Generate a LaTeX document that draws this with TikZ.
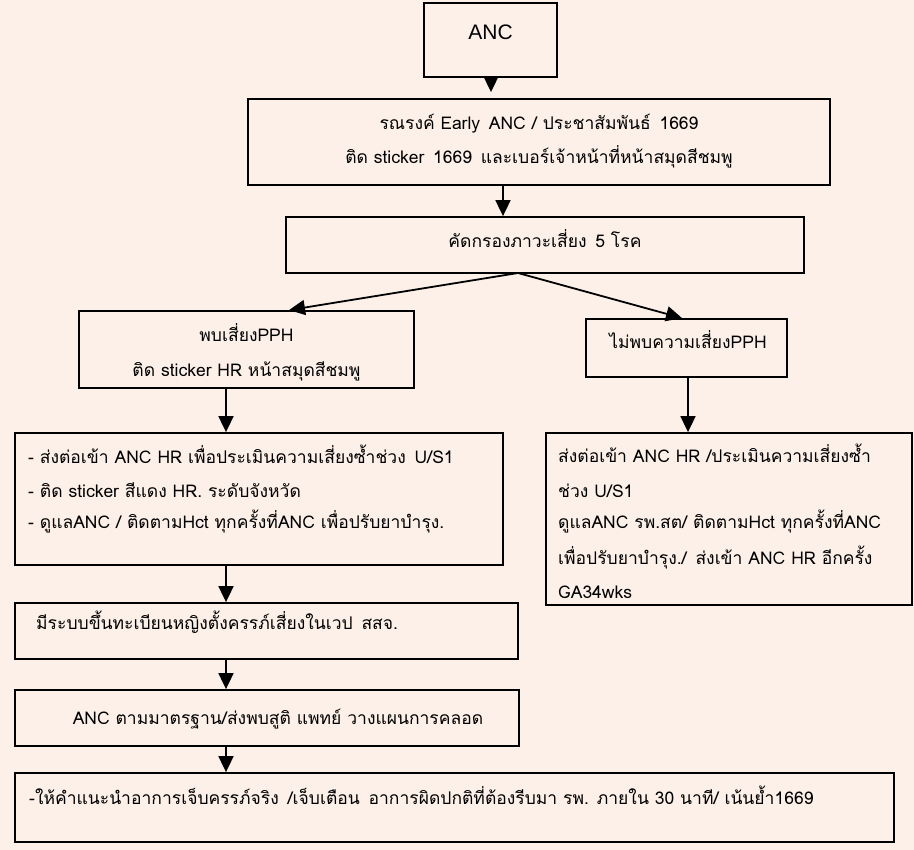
\documentclass[tikz,border=0pt]{standalone}
\usepackage{fontspec}
\setmainfont{Loma}[Script=Thai]
\newfontfamily\ancfont{Liberation Sans}
\usetikzlibrary{arrows.meta}
\definecolor{bgc}{RGB}{252,240,232}
\tikzset{
  box/.style={draw, line width=1.8pt, inner sep=0pt, fill=none},
  arr/.style={line width=1.8pt, -{Triangle[length=16pt,width=15pt]}},
  tl/.style={anchor=base west, inner sep=0pt, font=\fontsize{17.5}{17.5}\selectfont},
  tc/.style={anchor=base, inner sep=0pt, font=\fontsize{17.5}{17.5}\selectfont},
}
\begin{document}
\begin{tikzpicture}[x=1pt,y=-1pt]
\fill[bgc] (0,0) rectangle (914,850);
\useasboundingbox (0,0) rectangle (914,850);
% boxes
\node[box, minimum width=133pt, minimum height=74pt] (b0) at (490.5,40) {};
\node[box, minimum width=582pt, minimum height=86pt] (b2) at (539,142) {};
\node[box, minimum width=518pt, minimum height=56pt] (b3) at (545,245) {};
\node[box, minimum width=335pt, minimum height=77pt] (l1) at (246.5,349.5) {};
\node[box, minimum width=201pt, minimum height=58pt] (r1) at (686.5,348) {};
\node[box, minimum width=488pt, minimum height=132pt] (l2) at (259,499) {};
\node[box, minimum width=366pt, minimum height=172pt] (r2) at (729,519) {};
\node[box, minimum width=503pt, minimum height=56pt] (l3) at (266.5,631) {};
\node[box, minimum width=504pt, minimum height=56pt] (l4) at (267,718) {};
\node[box, minimum width=879pt, minimum height=69pt] (l5) at (454.5,807.5) {};
% texts
\node[anchor=base, inner sep=0pt, font=\ancfont\fontsize{21}{21}\selectfont] (t0) at (490.5,40) {ANC};
\node[tc] (t2a) at (539,130) {รณรงค์ Early\enspace ANC / ประชาสัมพันธ์\enspace 1669};
\node[tc] (t2b) at (539,164) {ติด sticker\enspace 1669\enspace และเบอร์เจ้าหน้าที่หน้าสมุดสีชมพู};
\node[tc] (t3) at (545,248) {คัดกรองภาวะเสี่ยง\enspace 5 โรค};
\node[tc] (tl1a) at (246.5,342) {พบเสี่ยงPPH};
\node[tc] (tl1b) at (246.5,377) {ติด sticker HR หน้าสมุดสีชมพู};
\node[tc] (tr1) at (688,349) {ไม่พบความเสี่ยงPPH};
\node[tl] (tl2a) at (28,464) {- ส่งต่อเข้า ANC HR เพื่อประเมินความเสี่ยงซ้ำช่วง\enspace U/S1};
\node[tl] (tl2b) at (28,498) {- ติด sticker สีแดง HR. ระดับจังหวัด};
\node[tl] (tl2c) at (28,529) {- ดูแลANC / ติดตามHct ทุกครั้งที่ANC เพื่อปรับยาบำรุง.};
\node[tl] (tr2a) at (558,463) {ส่งต่อเข้า ANC HR /ประเมินความเสี่ยงซ้ำ};
\node[tl] (tr2b) at (558,498) {ช่วง U/S1};
\node[tl] (tr2c) at (558,529) {ดูแลANC รพ.สต/ ติดตามHct ทุกครั้งที่ANC};
\node[tl] (tr2d) at (558,564) {เพื่อปรับยาบำรุง./\enspace ส่งเข้า ANC HR อีกครั้ง};
\node[tl] (tr2e) at (558,598) {GA34wks};
\node[tl] (tl3) at (36,629) {มีระบบขึ้นทะเบียนหญิงตั้งครรภ์เสี่ยงในเวป\enspace สสจ.};
\node[tc] (tl4) at (278,724) {ANC ตามมาตรฐาน/ส่งพบสูติ แพทย์ วางแผนการคลอด};
\node[tl] (tl5) at (29,804) {-ให้คำแนะนำอาการเจ็บครรภ์จริง\enspace /เจ็บเตือน\enspace อาการผิดปกติที่ต้องรีบมา รพ. ภายใน 30 นาที/ เน้นย้ำ1669};
% helper coordinates
\coordinate (x491) at (491,0);
\coordinate (x503) at (503,0);
\coordinate (split) at (518,273);
\coordinate (xL) at (289,0);
\coordinate (xR) at (682,0);
\coordinate (x226) at (226,0);
\coordinate (x688) at (688,0);
% connectors
\draw[arr, shorten >=6pt] (x491 |- b0.south) -- (x491 |- b2.north);
\draw[arr] (x503 |- b2.south) -- (x503 |- b3.north);
\draw[arr] (split) -- (xL |- l1.north);
\draw[arr] (split) -- (xR |- r1.north);
\draw[arr] (x226 |- l1.south) -- (x226 |- l2.north);
\draw[arr] (x688 |- r1.south) -- (x688 |- r2.north);
\draw[arr] (x226 |- l2.south) -- (x226 |- l3.north);
\draw[arr] (x226 |- l3.south) -- (x226 |- l4.north);
\draw[arr] (x226 |- l4.south) -- (x226 |- l5.north);
\end{tikzpicture}
\end{document}
